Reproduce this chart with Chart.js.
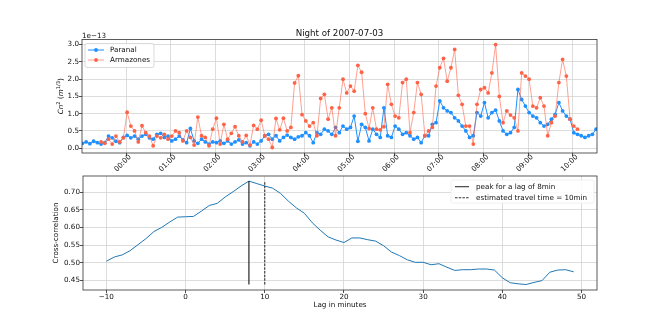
<!DOCTYPE html>
<html>
<head>
<meta charset="utf-8">
<script src="https://cdn.jsdelivr.net/npm/chart.js@4.4.1/dist/chart.umd.min.js"></script>
<style>
  body { margin: 0; background: #fff; }
  #wrap { position: relative; width: 664px; height: 332px; }
  canvas { position: absolute; left: 0; top: 0; }
</style>
</head>
<body>
<div id="wrap">
  <canvas id="timeChart" width="664" height="332"></canvas>
  <canvas id="lagChart" width="664" height="332"></canvas>
</div>
<script>
// night of 2007-07-03, one sample every 5 min from 23:01 (hours from midnight)
const startHour = -0.98;
const stepHour = 5 / 60;

// Cn2 in units of 1e-13 m^(1/3)
const paranal = [
  0.14, 0.18, 0.13, 0.20, 0.16, 0.12, 0.16, 0.35, 0.30, 0.20,
  0.16, 0.31, 0.37, 0.30, 0.35, 0.26, 0.35, 0.40, 0.30, 0.26,
  0.40, 0.43, 0.31, 0.35, 0.21, 0.26, 0.35, 0.24, 0.16, 0.57,
  0.21, 0.14, 0.26, 0.18, 0.12, 0.18, 0.16, 0.21, 0.14, 0.21,
  0.12, 0.18, 0.24, 0.12, 0.16, 0.07, 0.18, 0.12, 0.21, 0.36,
  0.40, 0.26, 0.36, 0.21, 0.31, 0.38, 0.31, 0.26, 0.33, 0.36,
  0.45, 0.36, 0.16, 0.45, 0.40, 0.55, 0.50, 0.40, 0.60, 0.45,
  0.64, 0.55, 0.60, 0.93, 0.20, 0.69, 0.60, 0.21, 0.55, 0.40,
  0.31, 1.17, 0.36, 0.31, 0.64, 0.55, 0.40, 0.45, 0.36, 0.26,
  0.31, 0.16, 0.36, 0.36, 0.69, 0.74, 1.37, 1.17, 1.08, 1.03,
  0.88, 0.79, 0.64, 0.50, 0.31, 0.36, 1.03, 0.93, 1.32, 0.88,
  1.03, 1.10, 0.79, 0.50, 0.40, 0.45, 0.60, 1.70, 1.41, 1.22,
  1.03, 0.93, 0.88, 0.74, 0.64, 0.69, 0.84, 0.98, 1.32, 1.08,
  0.93, 0.84, 0.45, 0.40, 0.36, 0.31, 0.36, 0.40, 0.55
];
const armazones = [
  null, null, null, null, null, 0.18, 0.14, 0.26, 0.12, 0.35,
  0.18, 0.30, 1.04, 0.64, 0.50, 0.18, 0.65, 0.45, 0.35, 0.07,
  0.35, 0.30, 0.40, 0.26, 0.35, 0.50, 0.45, 0.21, 0.50, 0.31,
  0.09, 0.90, 0.36, 0.31, 0.07, 0.55, 0.87, 0.12, 0.69, 0.26,
  0.43, 0.62, 0.36, 0.18, 0.37, 0.09, 0.66, 0.55, 0.81, 0.36,
  0.26, 0.02, 0.86, 0.53, 0.87, 0.50, 0.60, 1.89, 2.10, 0.97,
  0.79, 0.64, 0.74, 0.36, 1.44, 1.56, 0.84, 1.17, 0.36, 1.17,
  2.00, 1.60, 1.80, 1.65, 2.40, 2.20, 1.00, 0.57, 1.17, 0.55,
  0.53, 0.62, 1.85, 1.27, 0.93, 0.88, 1.90, 2.00, 0.45, 1.03,
  1.90, 1.56, 0.36, 0.50, 0.60, 1.80, 2.33, 2.60, 1.94, 2.33,
  2.86, 1.53, 1.27, 0.64, 0.64, 0.12, 1.27, 1.70, 1.75, 1.60,
  2.18, 3.00, 1.50, 0.74, 1.08, 0.96, 0.88, 0.50, 2.18, 2.09,
  2.00, 1.22, 1.17, 1.46, 1.22, 0.36, 0.74, 0.93, 1.90, 2.57,
  2.09, 0.84, 0.64, 0.55, null, null, null, null, null
];
const hourTicks = [0, 1, 2, 3, 4, 5, 6, 7, 8, 9, 10];
const cnTicks = [0, 0.5, 1.0, 1.5, 2.0, 2.5, 3.0];

// cross-correlation Paranal / Armazones vs lag (minutes)
const lags = [
  -10, -9, -8, -7, -6, -5, -4, -3, -2, -1,
  0, 1, 2, 3, 4, 5, 6, 7, 8, 9,
  10, 11, 12, 13, 14, 15, 16, 17, 18, 19,
  20, 21, 22, 23, 24, 25, 26, 27, 28, 29,
  30, 31, 32, 33, 34, 35, 36, 37, 38, 39,
  40, 41, 42, 43, 44, 45, 46, 47, 48, 49
];
const crossCorr = [
  0.504, 0.516, 0.522, 0.534, 0.551, 0.568, 0.588, 0.600, 0.615, 0.629,
  0.630, 0.631, 0.646, 0.662, 0.668, 0.686, 0.701, 0.717, 0.731, 0.724,
  0.717, 0.711, 0.696, 0.674, 0.655, 0.640, 0.613, 0.592, 0.573, 0.564,
  0.557, 0.570, 0.570, 0.565, 0.561, 0.548, 0.530, 0.520, 0.508, 0.501,
  0.501, 0.494, 0.497, 0.487, 0.478, 0.480, 0.480, 0.482, 0.482, 0.479,
  0.457, 0.443, 0.440, 0.438, 0.444, 0.449, 0.473, 0.479, 0.480, 0.474
];
const lagTicks = [-10, 0, 10, 20, 30, 40, 50];
const corrTicks = [0.45, 0.50, 0.55, 0.60, 0.65, 0.70];
const peakLag = 8;
const travelLag = 10;

Chart.defaults.font.family = 'DejaVu Sans';
Chart.defaults.color = '#111';
Chart.defaults.animation = false;

const font = { family: 'DejaVu Sans', size: 7.2 };
const gridStyle = { color: '#d4d4d4', lineWidth: 0.8, tickColor: '#222', tickLength: 3 };

const framePlugin = {
  id: 'frame',
  afterDraw(chart) {
    const { ctx, chartArea: a } = chart;
    ctx.save();
    ctx.strokeStyle = '#333';
    ctx.lineWidth = 0.8;
    ctx.strokeRect(a.left, a.top, a.right - a.left, a.bottom - a.top);
    ctx.restore();
  }
};

function drawRich(ctx, parts, cx, cy) {
  // parts: [text, italic, superscript]
  let total = 0;
  const sizes = parts.map(p => {
    ctx.font = (p[1] ? 'italic ' : '') + (p[2] ? 5.2 : 7.2) + 'px DejaVu Sans';
    const w = ctx.measureText(p[0]).width;
    total += w;
    return w;
  });
  let x = cx - total / 2;
  parts.forEach((p, i) => {
    ctx.font = (p[1] ? 'italic ' : '') + (p[2] ? 5.2 : 7.2) + 'px DejaVu Sans';
    ctx.fillText(p[0], x, cy + (p[2] ? -3 : 0));
    x += sizes[i];
  });
}

const topExtras = {
  id: 'topExtras',
  afterDraw(chart) {
    const { ctx, chartArea: a } = chart;
    ctx.save();
    ctx.fillStyle = '#111';
    ctx.font = '7.2px DejaVu Sans';
    ctx.textAlign = 'left';
    ctx.textBaseline = 'alphabetic';
    ctx.fillText('1e\u221213', a.left, 38);

    // y axis title  Cn^2 (m^1/3)
    ctx.translate(63, (a.top + a.bottom) / 2);
    ctx.rotate(-Math.PI / 2);
    drawRich(ctx, [['Cn', true, false], ['2', false, true], [' (', false, false],
      ['m', true, false], ['1/3', false, true], [')', false, false]], 0, 0);
    ctx.setTransform(1, 0, 0, 1, 0, 0);

    // legend
    ctx.beginPath();
    ctx.roundRect(85, 43.5, 69, 24, 2);
    ctx.fillStyle = 'rgba(255,255,255,0.85)';
    ctx.fill();
    ctx.strokeStyle = '#d0d0d0';
    ctx.lineWidth = 0.8;
    ctx.stroke();
    const rows = [
      ['Paranal', '#1e90ff', '#1e90ff', 50],
      ['Armazones', '#ff6347', 'rgba(255,99,71,0.6)', 60]
    ];
    rows.forEach(r => {
      ctx.strokeStyle = r[2];
      ctx.lineWidth = 1;
      ctx.beginPath();
      ctx.moveTo(88, r[3]);
      ctx.lineTo(104, r[3]);
      ctx.stroke();
      ctx.fillStyle = r[1];
      ctx.beginPath();
      ctx.arc(96, r[3], 1.9, 0, Math.PI * 2);
      ctx.fill();
      ctx.fillStyle = '#111';
      ctx.font = '7.2px DejaVu Sans';
      ctx.textBaseline = 'middle';
      ctx.fillText(r[0], 110, r[3]);
    });
    ctx.restore();
  }
};

const lagLegend = {
  id: 'lagLegend',
  afterDraw(chart) {
    const { ctx } = chart;
    ctx.save();
    ctx.beginPath();
    ctx.roundRect(451, 180, 143, 23, 2);
    ctx.fillStyle = 'rgba(255,255,255,0.85)';
    ctx.fill();
    ctx.strokeStyle = '#ececec';
    ctx.lineWidth = 0.8;
    ctx.stroke();
    const rows = [
      ['peak for a lag of ' + peakLag + 'min', [], 186.7],
      ['estimated travel time = ' + travelLag + 'min', [2.5, 1.2], 197.7]
    ];
    rows.forEach(r => {
      ctx.strokeStyle = '#333';
      ctx.lineWidth = 1.1;
      ctx.setLineDash(r[1]);
      ctx.beginPath();
      ctx.moveTo(455, r[2]);
      ctx.lineTo(469, r[2]);
      ctx.stroke();
      ctx.setLineDash([]);
      ctx.fillStyle = '#111';
      ctx.font = '7.2px DejaVu Sans';
      ctx.textBaseline = 'middle';
      ctx.fillText(r[0], 476, r[2]);
    });
    ctx.restore();
  }
};

const toPoints = arr => arr.map((v, i) => ({ x: startHour + i * stepHour, y: v }));

new Chart(document.getElementById('timeChart'), {
  type: 'line',
  data: {
    datasets: [
      {
        label: 'Armazones',
        data: toPoints(armazones),
        borderColor: 'rgba(255,99,71,0.6)',
        borderWidth: 1,
        pointBackgroundColor: '#ff6347',
        pointBorderWidth: 0,
        pointRadius: 1.9,
        order: 0
      },
      {
        label: 'Paranal',
        data: toPoints(paranal),
        borderColor: '#1e90ff',
        borderWidth: 1,
        pointBackgroundColor: '#1e90ff',
        pointBorderWidth: 0,
        pointRadius: 1.9,
        order: 1
      }
    ]
  },
  options: {
    responsive: false,
    layout: { padding: { top: 0, left: 0, right: 67, bottom: 159 } },
    plugins: {
      legend: { display: false },
      tooltip: { enabled: false },
      title: {
        display: true,
        fullSize: false,
        text: 'Night of 2007-07-03',
        color: '#111',
        font: { family: 'DejaVu Sans', size: 8.7, weight: 'normal', lineHeight: 1.2 },
        padding: { top: 29, bottom: 0 }
      }
    },
    scales: {
      x: {
        type: 'linear',
        min: -0.99,
        max: 10.54,
        afterBuildTicks: s => { s.ticks = hourTicks.map(v => ({ value: v })); },
        afterFit: s => { s.height = 20; },
        grid: gridStyle,
        border: { display: false },
        ticks: {
          autoSkip: false,
          minRotation: 45,
          maxRotation: 45,
          labelOffset: 4,
          padding: -3,
          font,
          callback: v => String(v).padStart(2, '0') + ':00'
        }
      },
      y: {
        min: -0.14,
        max: 3.15,
        afterBuildTicks: s => { s.ticks = cnTicks.map(v => ({ value: v })); },
        afterFit: s => { s.width = 82; },
        grid: gridStyle,
        border: { display: false },
        ticks: { padding: 0, font, callback: v => v.toFixed(1) }
      }
    }
  },
  plugins: [framePlugin, topExtras]
});

const corrMin = Math.min(...crossCorr);
const corrMax = Math.max(...crossCorr);

new Chart(document.getElementById('lagChart'), {
  type: 'line',
  data: {
    datasets: [
      {
        label: 'cross-correlation',
        data: lags.map((l, i) => ({ x: l, y: crossCorr[i] })),
        borderColor: '#1f77b4',
        borderWidth: 1,
        pointRadius: 0,
        order: 2
      },
      {
        label: 'peak for a lag of ' + peakLag + 'min',
        data: [{ x: peakLag, y: corrMin }, { x: peakLag, y: corrMax }],
        borderColor: '#111',
        borderWidth: 1.1,
        pointRadius: 0,
        order: 1
      },
      {
        label: 'estimated travel time = ' + travelLag + 'min',
        data: [{ x: travelLag, y: corrMin }, { x: travelLag, y: corrMax }],
        borderColor: '#333',
        borderWidth: 1.1,
        borderDash: [2.5, 1.2],
        pointRadius: 0,
        order: 0
      }
    ]
  },
  options: {
    responsive: false,
    layout: { padding: { top: 176, left: 0, right: 67, bottom: 22 } },
    plugins: { legend: { display: false }, tooltip: { enabled: false } },
    scales: {
      x: {
        type: 'linear',
        min: -12.95,
        max: 51.95,
        afterBuildTicks: s => { s.ticks = lagTicks.map(v => ({ value: v })); },
        afterFit: s => { s.height = 20; },
        grid: gridStyle,
        border: { display: false },
        title: { display: true, text: 'Lag in minutes', font, color: '#111', padding: { top: 0, bottom: 1 } },
        ticks: { autoSkip: false, maxRotation: 0, padding: 0, font,
          callback: v => (v < 0 ? '\u2212' + Math.abs(v) : String(v)) }
      },
      y: {
        min: 0.4225,
        max: 0.7455,
        afterBuildTicks: s => { s.ticks = corrTicks.map(v => ({ value: v })); },
        afterFit: s => { s.width = 83; },
        grid: gridStyle,
        border: { display: false },
        title: { display: true, text: 'Cross-correlation', font, color: '#111', padding: { top: 52, bottom: 0 } },
        ticks: { padding: 0, font, callback: v => v.toFixed(2) }
      }
    }
  },
  plugins: [framePlugin, lagLegend]
});
</script>
</body>
</html>
